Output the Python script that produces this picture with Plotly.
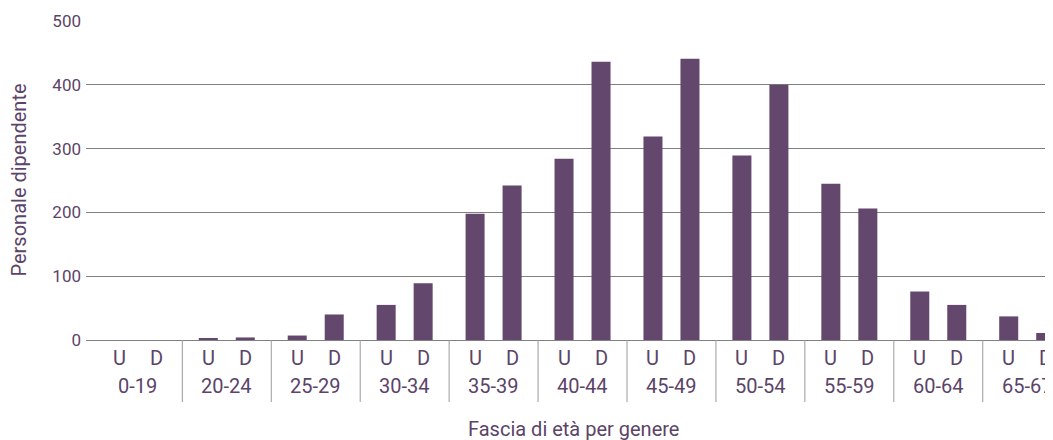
import plotly.graph_objects as go

age_groups = ["0-19", "20-24", "25-29", "30-34", "35-39", "40-44", "45-49",
              "50-54", "55-59", "60-64", "65-67"]
uomini = [0, 2, 7, 55, 198, 284, 319, 289, 245, 76, 37]
donne = [0, 4, 40, 89, 242, 436, 441, 400, 206, 55, 11]
gender_labels = ["U", "D"]
y_ticks = [0, 100, 200, 300, 400, 500]
x_title = "Fascia di età per genere"
y_title = "Personale dipendente"

BAR = "#64476c"
TXT = "#5b4468"
GRID = "#808080"
FONT = "Roboto"

fig = go.Figure()
for name, vals in zip(gender_labels, [uomini, donne]):
    fig.add_trace(go.Bar(x=age_groups, y=vals, name=name, marker_color=BAR,
                         marker_line_width=0, hoverinfo="x+y+name"))

plot_h = 319
annotations = []
shapes = []
px_per_unit = 88.93
offset_px = 0.208 * px_per_unit
for i, ag in enumerate(age_groups):
    for g, sh in zip(gender_labels, [-offset_px, offset_px]):
        annotations.append(dict(x=ag, y=0, xref="x", yref="paper", text=g,
                                showarrow=False, xshift=sh, yshift=-18,
                                yanchor="middle", xanchor="center",
                                font=dict(family=FONT, size=20, color=TXT)))
    annotations.append(dict(x=ag, y=0, xref="x", yref="paper", text=ag,
                            showarrow=False, yshift=-46, yanchor="middle",
                            xanchor="center",
                            font=dict(family=FONT, size=20, color=TXT)))
    if i < len(age_groups) - 1:
        shapes.append(dict(type="line", xref="x", yref="paper",
                           x0=i + 0.5, x1=i + 0.5, y0=0, y1=-62 / plot_h,
                           line=dict(color="#9a9a9a", width=1)))

# axis titles
annotations.append(dict(x=0.5, y=0, xref="paper", yref="paper", text=x_title,
                        showarrow=False, yshift=-89, xshift=4,
                        yanchor="middle", xanchor="center",
                        font=dict(family=FONT, size=20, color=TXT)))
annotations.append(dict(x=0, y=0.5, xref="paper", yref="paper", text=y_title,
                        showarrow=False, xshift=-68, textangle=-90,
                        yanchor="middle", xanchor="center",
                        font=dict(family=FONT, size=20, color=TXT)))

# the page body adds an 8px margin, so the figure is sized to fit inside it
fig.update_layout(
    width=1045, height=432,
    margin=dict(l=78, r=0, t=13, b=100),
    paper_bgcolor="white", plot_bgcolor="white",
    barmode="group", bargap=0.168, bargroupgap=0.486,
    showlegend=False,
    font=dict(family=FONT, size=18, color=TXT),
    annotations=annotations,
    shapes=shapes,
    xaxis=dict(range=[-0.583, 10.29], showticklabels=False, showgrid=False,
               ticks="", showline=False, zeroline=False, automargin=False),
    yaxis=dict(range=[0, 500], tickvals=y_ticks, showgrid=True, gridcolor=GRID,
               gridwidth=1, zeroline=True, zerolinecolor=GRID, zerolinewidth=1,
               ticks="", showline=False, ticklabelstandoff=4, automargin=False,
               tickfont=dict(family=FONT, size=17, color=TXT)),
)

fig.write_html("out.html")
